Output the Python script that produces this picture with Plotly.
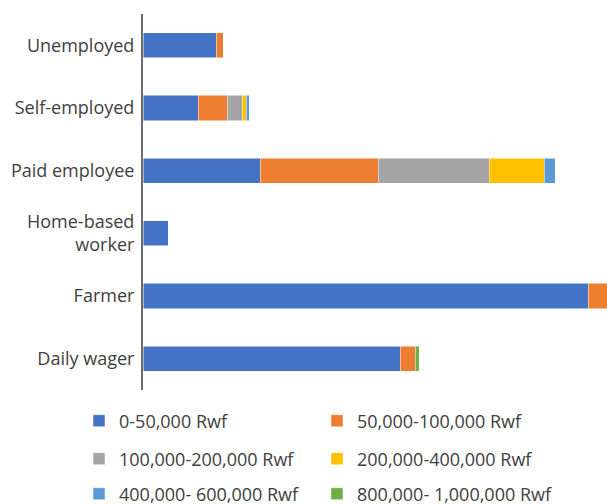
import plotly.graph_objects as go

categories = ["Unemployed", "Self-employed", "Paid employee", "Home-based<br>worker", "Farmer", "Daily wager"]
series_names = ["0-50,000 Rwf", "50,000-100,000 Rwf", "100,000-200,000 Rwf",
                "200,000-400,000 Rwf", "400,000- 600,000 Rwf", "800,000- 1,000,000 Rwf"]
v0_50k = [73, 55, 117, 25, 445, 257]
v50_100k = [7, 29, 118, 0, 20, 15]
v100_200k = [0, 15, 111, 0, 0, 0]
v200_400k = [0, 4, 55, 0, 0, 0]
v400_600k = [0, 3, 11, 0, 0, 0]
v800k_1m = [0, 0, 0, 0, 0, 4]
colors = ["#4472C4", "#ED7D31", "#A5A5A5", "#FFC000", "#5B9BD5", "#70AD47"]

values = [v0_50k, v50_100k, v100_200k, v200_400k, v400_600k, v800k_1m]

W, H = 607, 504
L, R, T, B = 143, 0, 14, 114

# legend grid: 2 columns x 3 rows (page pixel positions)
col_x = [79, 317]
row_y = [421, 459, 494]

fig = go.Figure()
legend_layout = {}
for i, (name, vals, col) in enumerate(zip(series_names, values, colors)):
    key = "legend" if i == 0 else f"legend{i + 1}"
    fig.add_trace(go.Bar(
        y=categories, x=vals, name=name, orientation="h",
        marker=dict(color=col, line=dict(color="white", width=0.5)),
        legend=key, showlegend=True,
    ))
    legend_layout[key] = dict(
        x=col_x[i % 2] / W, y=1 - row_y[i // 2] / H,
        xanchor="left", yanchor="middle",
        xref="container", yref="container",
        orientation="h",
        font=dict(family="Open Sans", size=18, color="#404040"),
        bgcolor="rgba(0,0,0,0)", itemclick=False, itemdoubleclick=False,
    )

fig.update_layout(
    width=W, height=H,
    margin=dict(l=L, r=R, t=T, b=B),
    showlegend=True,
    barmode="stack",
    bargap=0.6,
    plot_bgcolor="white", paper_bgcolor="white",
    font=dict(family="Open Sans", size=18, color="#404040"),
    xaxis=dict(range=[0, 464], showgrid=False, zeroline=False, showticklabels=False, showline=False),
    yaxis=dict(categoryorder="array", categoryarray=categories, autorange="reversed",
               showline=True, linecolor="#6b6b6b", linewidth=2, showgrid=False,
               ticks="", ticklabelstandoff=3, tickfont=dict(family="Open Sans", size=18, color="#404040")),
    **legend_layout,
)

fig.write_html(
    "out.html",
    config={"displayModeBar": False},
    post_script="document.body.style.margin='0';document.body.style.overflow='hidden';",
)
